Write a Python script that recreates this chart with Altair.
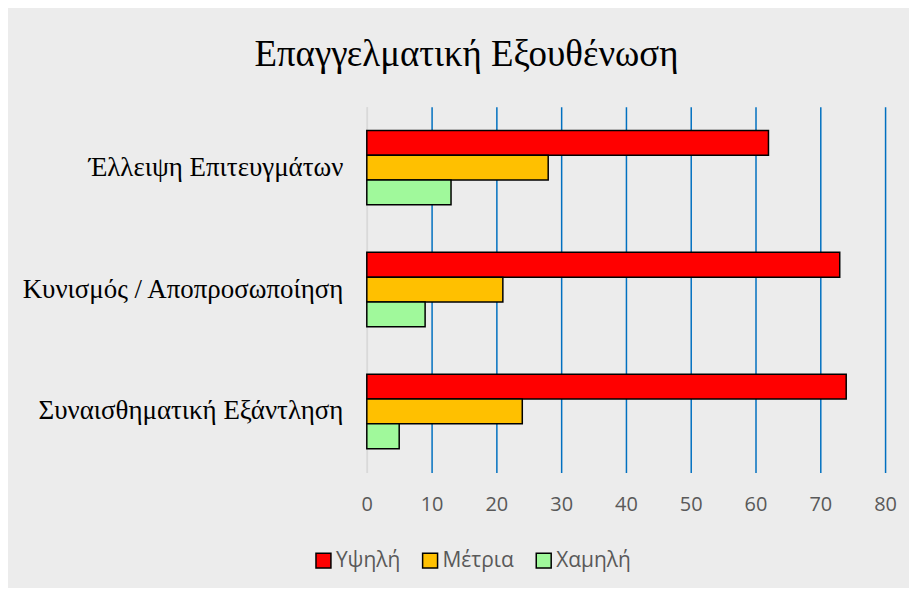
import altair as alt
import pandas as pd

categories = ["Έλλειψη Επιτευγμάτων", "Κυνισμός / Αποπροσωποίηση", "Συναισθηματική Εξάντληση"]
levels = ["Υψηλή", "Μέτρια", "Χαμηλή"]
high = [62, 73, 74]
medium = [28, 21, 24]
low = [13, 9, 5]
colors = ["#ff0000", "#ffc000", "#a0f99b"]
x_ticks = [0, 10, 20, 30, 40, 50, 60, 70, 80]

rows = []
for lvl, vals in zip(levels, [high, medium, low]):
    for c, v in zip(categories, vals):
        rows.append({"cat": c, "level": lvl, "value": v})
df = pd.DataFrame(rows)

chart = alt.Chart(df).mark_bar(stroke="black", strokeWidth=1.5).encode(
    y=alt.Y("cat:N", sort=categories, title=None,
            scale=alt.Scale(paddingInner=0.39, paddingOuter=0.195),
            axis=alt.Axis(labelFont="Liberation Serif", labelFontSize=27, labelColor="black",
                          ticks=False, domainColor="#d9d9d9", domainWidth=1.5,
                          labelPadding=24, grid=False, labelLimit=400)),
    yOffset=alt.YOffset("level:N", sort=levels, scale=alt.Scale(paddingInner=0, paddingOuter=0)),
    x=alt.X("value:Q", scale=alt.Scale(domain=[0, 80], nice=False),
            axis=alt.Axis(values=x_ticks, title=None, domain=False, ticks=False,
                          labelFont="Open Sans", labelFontSize=20, labelColor="#595959",
                          labelPadding=22, labelFlush=False,
                          gridColor=alt.condition("datum.value == 0", alt.value("#d9d9d9"), alt.value("#0070c0")),
                          gridWidth=1.5)),
    color=alt.Color("level:N", sort=levels,
                    scale=alt.Scale(domain=levels, range=colors),
                    legend=alt.Legend(title=None, orient="none", direction="horizontal",
                                      legendX=-54, legendY=445,
                                      symbolType="square", symbolSize=225,
                                      symbolStrokeColor="black", symbolStrokeWidth=1.5,
                                      labelFont="Open Sans", labelFontSize=21, labelColor="#595959",
                                      columnPadding=19, labelOffset=2)),
).properties(
    width=520, height=367,
    title=alt.TitleParams("Επαγγελματική Εξουθένωση", font="Liberation Serif", fontSize=37,
                          fontWeight="normal", color="black", anchor="middle", dx=-160,
                          baseline="alphabetic", offset=4),
    autosize=alt.AutoSizeParams(type="none"),
    padding={"left": 360, "top": 98, "right": 24, "bottom": 115},
).configure(
    background="#ececec",
).configure_view(stroke=None)

chart.save("out.html", embed_options={"renderer": "svg", "actions": False})
